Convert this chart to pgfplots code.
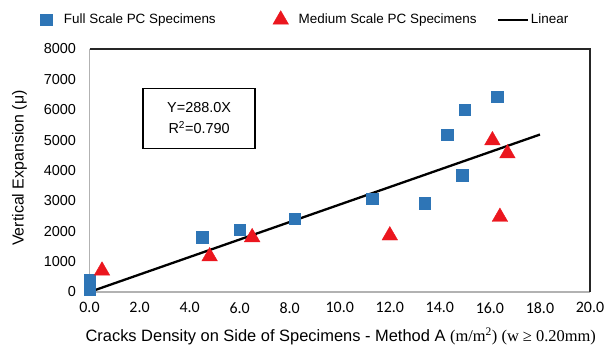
\documentclass[border=0pt]{standalone}
\usepackage{pgfplots}
\pgfplotsset{compat=1.18}
\usepackage{fontspec}
\setmainfont{Liberation Sans}
\newfontfamily\calibri{Carlito}
\newfontfamily\tnr{Liberation Serif}
\definecolor{pcblue}{RGB}{46,117,182}
\definecolor{pcred}{RGB}{235,22,30}
\pgfplotsset{
  legsq/.style={legend image code/.code={\path[draw=none,fill=none] (0bp,0bp) -- (22bp,0bp); \draw[##1] plot coordinates {(6bp,0bp)};}},
  legtri/.style={legend image code/.code={\path[draw=none,fill=none] (0bp,0bp) -- (24bp,0bp); \draw[##1] plot coordinates {(8bp,0bp)};}},
  legline/.style={legend image code/.code={\draw[##1] (0bp,0bp) -- (30bp,0bp);}},
}
\begin{document}
\begin{tikzpicture}[x=1bp,y=1bp]
\path[use as bounding box] (0,0) rectangle (611,349);
\begin{axis}[
  at={(89.5bp,57bp)}, anchor=south west,
  scale only axis, width=500.5bp, height=243bp,
  xmin=0, xmax=20, ymin=0, ymax=8000,
  xtick={0,2,...,20}, ytick={0,1000,...,8000},
  major tick length=0pt,
  axis line style={draw=none},
  clip=false,
  scaled y ticks=false,
  /pgf/number format/assume math mode=true,
  xticklabel style={font=\calibri\fontsize{16}{16}\selectfont, yshift=-7bp, /pgf/number format/.cd, fixed, fixed zerofill, precision=1},
  yticklabel style={font=\fontsize{14.5}{15}\selectfont, xshift=-10bp, /pgf/number format/.cd, fixed, set thousands separator={}},
  xlabel={Cracks Density on Side of Specimens - Method A {\tnr (m/m\textsuperscript{2}) (w ≥ 0.20mm)}},
  xlabel style={at={(axis description cs:0.502,-0.182)}, anchor=center, font=\fontsize{16.5}{17}\selectfont},
  ylabel={Vertical Expansion (μ)},
  ylabel style={at={(axis description cs:-0.14,0.51)}, anchor=center, font=\fontsize{16}{16}\selectfont},
  legend style={at={(axis description cs:-0.0989,1.1235)}, anchor=west, draw=none, fill=none,
    inner sep=0pt, outer sep=0pt,
    font=\fontsize{13.5}{13.5}\selectfont,
    /tikz/column 2/.append style={column sep=55bp},
    /tikz/column 4/.append style={column sep=18bp}},
  legend columns=3, legend cell align=left,
]
\draw[gray!60, line width=1.2bp] (rel axis cs:0,1) -- (rel axis cs:0,0) -- (rel axis cs:1,0);
\draw[black!85, line width=1.2bp] (rel axis cs:0,1) -- (rel axis cs:1,1) -- (rel axis cs:1,0);
\addplot[only marks, mark=square*, mark size=5.8bp, color=pcblue, legsq] coordinates {
  (0.0,80) (0.0,400) (4.5,1800) (6.0,2050) (8.2,2410) (11.3,3070) (13.4,2930)
  (14.3,5180) (14.9,3850) (15.0,6000) (16.3,6430)};
\addlegendentry{Full Scale PC Specimens}
\addplot[only marks, mark=triangle*, mark size=9bp, color=pcred, legtri] coordinates {
  (0.5,700) (4.8,1170) (6.5,1800) (12.0,1860) (16.1,4990) (16.7,4560) (16.4,2470)};
\addlegendentry{Medium Scale PC Specimens}
\addplot[black, line width=2.3bp, no marks, legline] coordinates {(0,0) (18,5184)};
\addlegendentry{Linear}
\node[draw, line width=1.3bp, minimum width=112bp, minimum height=60bp, align=center,
  font=\fontsize{14.5}{21}\selectfont] at (axis description cs:0.219,0.715)
  {Y=288.0X\\R\textsuperscript{2}=0.790};
\end{axis}
\end{tikzpicture}
\end{document}
